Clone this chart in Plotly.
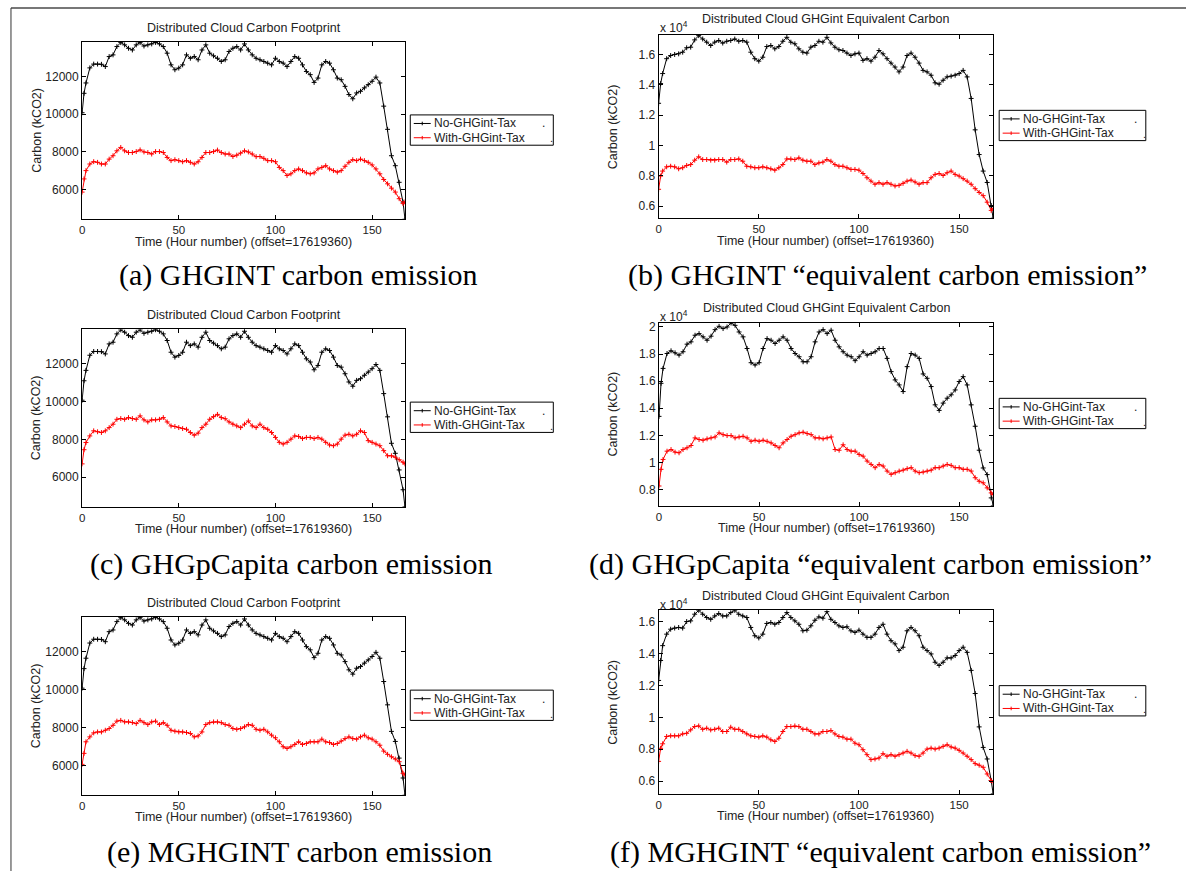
import plotly.graph_objects as go

W, H = 1186, 871

# ---------------- data (hour offsets from 17619360) ----------------
HOURS = [0, 1, 2, 4, 6, 8, 10, 12, 14, 16, 18, 20, 22, 24, 26, 28, 30, 32, 34, 36,
         38, 40, 42, 44, 46, 48, 50, 52, 54, 56, 58, 60, 62, 64, 66, 68, 70, 72, 74, 76,
         78, 80, 82, 84, 86, 88, 90, 92, 94, 96, 98, 100, 102, 104, 106, 108, 110, 112, 114, 116,
         118, 120, 122, 124, 126, 128, 130, 132, 134, 136, 138, 140, 142, 144, 146, 148, 150, 152, 154, 156,
         158, 160, 162, 164, 166, 167]

# carbon footprint without tax (same baseline in a, c, e)
NO_TAX_FOOTPRINT = [10070, 11100, 11650, 12450, 12650, 12650, 12640, 12520, 13050, 13140,
                    13580, 13790, 13670, 13490, 13400, 13670, 13790, 13610, 13670, 13720,
                    13800, 13720, 13580, 13230, 12610, 12350, 12440, 12610, 13140, 12960,
                    13050, 12880, 13400, 13670, 13230, 13090, 12960, 12790, 12880, 13320,
                    13490, 13580, 13400, 13720, 13400, 13140, 12960, 12880, 12790, 12700,
                    12610, 12960, 12790, 12700, 12520, 12790, 13050, 12960, 12610, 12260,
                    12090, 11680, 11910, 12610, 12790, 12700, 12350, 11910, 11820, 11470,
                    11035, 10810, 11120, 11210, 11390, 11560, 11740, 11960, 11650, 10420,
                    9190, 7790, 7260, 6380, 5330, 4420]
# (a) GHGINT with tax
WITH_TAX_FOOTPRINT_GHGINT = [5860, 6560, 7000, 7350, 7475, 7440, 7350, 7350, 7610, 7790,
                             8050, 8230, 8050, 7960, 7960, 8010, 8100, 7990, 7960, 7880,
                             8010, 8010, 7960, 7700, 7530, 7580, 7530, 7470, 7530, 7440,
                             7350, 7470, 7700, 7960, 7960, 8010, 8090, 7960, 7880, 7880,
                             7750, 7820, 7930, 8050, 7990, 7880, 7740, 7750, 7650, 7530,
                             7530, 7470, 7170, 7000, 6740, 6830, 7000, 7090, 7000, 6880,
                             6830, 6880, 7090, 7170, 7260, 7090, 7000, 6920, 7000, 7230,
                             7440, 7580, 7530, 7610, 7530, 7440, 7300, 7090, 6830, 6530,
                             6300, 6070, 5860, 5510, 5250, 5340]
# (c) GHGpCapita with tax
WITH_TAX_FOOTPRINT_PCAP = [6700, 7450, 7830, 8180, 8450, 8400, 8360, 8450, 8620, 8800,
                           9060, 9100, 9060, 9150, 9100, 9060, 9240, 9030, 8920, 9030,
                           9030, 9060, 9150, 8920, 8710, 8680, 8620, 8570, 8530, 8360,
                           8220, 8330, 8620, 8800, 9060, 9200, 9320, 9150, 9090, 8920,
                           8800, 8710, 8620, 8800, 8970, 8710, 8620, 8800, 8620, 8530,
                           8360, 8100, 7840, 7750, 7840, 8010, 8180, 8150, 8040, 8100,
                           8100, 8040, 8100, 8010, 7840, 7700, 7660, 7750, 8010, 8220,
                           8270, 8180, 8270, 8450, 8360, 7930, 7840, 7750, 7660, 7400,
                           7130, 7130, 7050, 6920, 6790, 6700]
# (e) MGHGINT with tax
WITH_TAX_FOOTPRINT_MGHG = [6050, 6630, 7240, 7500, 7710, 7760, 7760, 7850, 7940, 8110,
                           8330, 8370, 8290, 8290, 8260, 8200, 8370, 8250, 8150, 8290,
                           8330, 8150, 8250, 8110, 7850, 7800, 7760, 7760, 7730, 7680,
                           7500, 7550, 7760, 8150, 8250, 8290, 8290, 8250, 8150, 8110,
                           7940, 7900, 7940, 8030, 8150, 8110, 7900, 7850, 7900, 7760,
                           7590, 7450, 7240, 6980, 6890, 6980, 7100, 7240, 7100, 7150,
                           7240, 7240, 7240, 7380, 7240, 7200, 7100, 7150, 7280, 7410,
                           7500, 7410, 7380, 7500, 7590, 7450, 7380, 7240, 7060, 6750,
                           6580, 6450, 6330, 6190, 5580, 5490]
# (b) GHGINT equivalent carbon
NO_TAX_EQUIV_GHGINT = [12780, 14080, 14740, 15720, 15930, 16000, 16040, 16150, 16440, 16480,
                       16960, 17240, 17020, 16810, 16590, 16810, 16920, 16750, 16870, 16920,
                       17020, 16870, 16920, 16810, 16150, 15720, 15560, 15820, 16520, 16590,
                       16370, 16520, 16870, 17130, 16810, 16700, 16370, 16150, 16090, 16480,
                       16590, 16870, 16810, 17130, 16760, 16480, 16310, 16260, 16090, 15930,
                       16040, 16090, 15610, 15720, 15560, 15820, 16260, 16040, 15720, 15430,
                       15170, 14850, 15170, 15930, 16090, 15820, 15430, 14950, 14850, 14630,
                       14130, 14040, 14300, 14520, 14570, 14630, 14740, 14950, 14520, 13100,
                       11030, 9400, 8310, 7560, 6040, 5200]
WITH_TAX_EQUIV_GHGINT = [7110, 7980, 8310, 8590, 8630, 8590, 8460, 8530, 8680, 8740,
                         9030, 9250, 9070, 9070, 9030, 9030, 9070, 9070, 8900, 9070,
                         9070, 9110, 8960, 8630, 8590, 8530, 8530, 8590, 8530, 8460,
                         8370, 8530, 8740, 9110, 9110, 9070, 9180, 9030, 8960, 8960,
                         8740, 8850, 8900, 9070, 8960, 8740, 8630, 8630, 8530, 8420,
                         8420, 8370, 8150, 7870, 7650, 7440, 7550, 7440, 7550, 7440,
                         7330, 7370, 7500, 7650, 7720, 7590, 7440, 7550, 7550, 7870,
                         8090, 8150, 8020, 8200, 8310, 8090, 7980, 7810, 7650, 7440,
                         7150, 6900, 6690, 6260, 5720, 5830]
# (d) GHGpCapita equivalent carbon
NO_TAX_EQUIV_PCAP = [13400, 15840, 16940, 18040, 18240, 18090, 17920, 18170, 18730, 18900,
                     19390, 19510, 19270, 19020, 19320, 19800, 20050, 19880, 20000, 20290,
                     20120, 19630, 19270, 18410, 17360, 17190, 17360, 18410, 19140, 19020,
                     18780, 19020, 19270, 19020, 18410, 18040, 17800, 17430, 17430, 17800,
                     18900, 19630, 19800, 19510, 19760, 19020, 18530, 18170, 17920, 17800,
                     17510, 17800, 18170, 17920, 18040, 18170, 18410, 18410, 17680, 16700,
                     16090, 15720, 15230, 17070, 18040, 17920, 17680, 16530, 16210, 15600,
                     14250, 13840, 14380, 14740, 14990, 15350, 15970, 16330, 15720, 14250,
                     12670, 10900, 9590, 9100, 7380, 6800]
WITH_TAX_EQUIV_PCAP = [8260, 9490, 10220, 10830, 10950, 10760, 10710, 10950, 11080, 11250,
                       11810, 11690, 11640, 11740, 11810, 11880, 12180, 12050, 11980, 11980,
                       11810, 11880, 11930, 11810, 11560, 11640, 11560, 11640, 11560, 11440,
                       11250, 11080, 11440, 11690, 11930, 12050, 12180, 12230, 12130, 12050,
                       11810, 11810, 11740, 11810, 11880, 10950, 10900, 11300, 10950, 10830,
                       10830, 10590, 10460, 10100, 9850, 9610, 9850, 9730, 9360, 9120,
                       9240, 9360, 9430, 9540, 9610, 9360, 9240, 9290, 9360, 9430,
                       9610, 9610, 9730, 9850, 9780, 9610, 9610, 9490, 9490, 9360,
                       8870, 8610, 8490, 8120, 7750, 7630]
# (f) MGHGINT equivalent carbon
NO_TAX_EQUIV_MGHG = [12310, 13560, 14490, 15210, 15520, 15590, 15630, 15590, 16000, 16040,
                     16460, 16700, 16460, 16250, 16140, 16350, 16500, 16350, 16350, 16560,
                     16700, 16460, 16350, 16250, 15630, 15110, 14970, 15210, 15880, 15940,
                     15830, 15940, 16250, 16560, 16250, 16040, 15830, 15420, 15460, 15730,
                     16080, 16290, 16210, 16620, 16140, 15940, 15730, 15630, 15670, 15420,
                     15320, 15460, 15210, 15010, 15010, 15210, 15630, 15830, 15210, 14800,
                     14600, 14180, 14390, 15420, 15630, 15420, 15110, 14390, 14180, 13970,
                     13450, 13250, 13450, 13720, 13720, 13870, 14180, 14390, 14070, 12940,
                     11490, 9400, 8115, 7390, 6040, 5210]
WITH_TAX_EQUIV_MGHG = [7240, 8060, 8340, 8800, 8840, 8840, 8840, 8960, 9000, 9210,
                       9420, 9460, 9250, 9320, 9210, 9250, 9320, 9110, 9110, 9380,
                       9250, 9250, 9110, 8960, 8840, 8800, 8760, 8840, 8760, 8590,
                       8490, 8690, 9110, 9420, 9420, 9460, 9420, 9250, 9250, 9110,
                       8960, 8960, 9110, 9110, 9170, 8960, 8800, 8760, 8630, 8630,
                       8380, 8280, 7970, 7660, 7350, 7390, 7450, 7720, 7560, 7660,
                       7560, 7660, 7760, 7870, 7760, 7600, 7560, 7760, 8010, 8070,
                       8010, 8070, 8180, 8280, 8140, 8070, 7930, 7760, 7560, 7350,
                       7100, 7000, 6870, 6450, 6040, 5940]

SERIES_NAMES = ["No-GHGint-Tax", "With-GHGint-Tax"]
TITLES = ["Distributed Cloud Carbon Footprint", "Distributed Cloud GHGint Equivalent Carbon"]
CAPTIONS = ["(a) GHGINT carbon emission", "(b) GHGINT \u201cequivalent carbon emission\u201d",
            "(c) GHGpCapita carbon emission", "(d) GHGpCapita \u201cequivalent carbon emission\u201d",
            "(e) MGHGINT carbon emission", "(f) MGHGINT \u201cequivalent carbon emission\u201d"]
X_TICKS = [0, 50, 100, 150]
Y_TICKS_FOOT = [6000, 8000, 10000, 12000]
Y_TICKTEXT_FOOT = ["6000", "8000", "10000", "12000"]
Y_TICKS_EQ = [6000, 8000, 10000, 12000, 14000, 16000]
Y_TICKTEXT_EQ = ["0.6", "0.8", "1", "1.2", "1.4", "1.6"]
Y_TICKS_EQ_D = [8000, 10000, 12000, 14000, 16000, 18000, 20000]
Y_TICKTEXT_EQ_D = ["0.8", "1", "1.2", "1.4", "1.6", "1.8", "2"]

# ---------------- layout geometry (pixels) ----------------
panels = [
    dict(box=(79.3, 403, 39, 217), yr=(4420, 13830), data=(NO_TAX_FOOTPRINT, WITH_TAX_FOOTPRINT_GHGINT),
         title=TITLES[0], yt=Y_TICKS_FOOT, ytt=Y_TICKTEXT_FOOT, title_y=25, leg=(408.3, 112.3, 143.4),
         cap=(296, 273), cap_text=CAPTIONS[0], xt_y=240, mult_y=None),
    dict(box=(657.3, 992.7, 32, 216), yr=(5200, 17290), data=(NO_TAX_EQUIV_GHGINT, WITH_TAX_EQUIV_GHGINT),
         title=TITLES[1], yt=Y_TICKS_EQ, ytt=Y_TICKTEXT_EQ, title_y=16, leg=(998.7, 107.7, 147),
         cap=(887, 273), cap_text=CAPTIONS[1], xt_y=239, mult_y=24),
    dict(box=(79.3, 403, 327.3, 505.7), yr=(4420, 13830), data=(NO_TAX_FOOTPRINT, WITH_TAX_FOOTPRINT_PCAP),
         title=TITLES[0], yt=Y_TICKS_FOOT, ytt=Y_TICKTEXT_FOOT, title_y=313, leg=(408.3, 400.5, 143.4),
         cap=(289, 563), cap_text=CAPTIONS[2], xt_y=528, mult_y=None),
    dict(box=(657.7, 992.7, 321, 504.5), yr=(6800, 20300), data=(NO_TAX_EQUIV_PCAP, WITH_TAX_EQUIV_PCAP),
         title=TITLES[1], yt=Y_TICKS_EQ_D, ytt=Y_TICKTEXT_EQ_D, title_y=306, leg=(998.7, 396.7, 147),
         cap=(870, 563), cap_text=CAPTIONS[3], xt_y=527, mult_y=314),
    dict(box=(79.3, 403, 616, 795), yr=(4420, 13830), data=(NO_TAX_FOOTPRINT, WITH_TAX_FOOTPRINT_MGHG),
         title=TITLES[0], yt=Y_TICKS_FOOT, ytt=Y_TICKTEXT_FOOT, title_y=602, leg=(408.3, 689.5, 143.4),
         cap=(297, 852), cap_text=CAPTIONS[4], xt_y=817, mult_y=None),
    dict(box=(657.3, 992.7, 609.3, 793.5), yr=(5210, 16710), data=(NO_TAX_EQUIV_MGHG, WITH_TAX_EQUIV_MGHG),
         title=TITLES[1], yt=Y_TICKS_EQ, ytt=Y_TICKTEXT_EQ, title_y=595, leg=(998.7, 685, 147),
         cap=(880, 852), cap_text=CAPTIONS[5], xt_y=816, mult_y=603),
]

COLORS = ["#000000", "#ff0000"]
SANS = "Liberation Sans, Arial, Helvetica, sans-serif"
SERIF = "Liberation Serif, Times New Roman, serif"
TXT = "#222222"


def fx(x):
    return x / W


def fy(y):
    return 1 - y / H


fig = go.Figure()
layout = dict(width=W, height=H, autosize=False, margin=dict(l=0, r=0, t=0, b=0),
              paper_bgcolor="white", plot_bgcolor="white", showlegend=False)
annotations = []
shapes = []


def pline(x0, y0, x1, y1, color, width=1):
    shapes.append(dict(type="line", xref="paper", yref="paper", x0=fx(x0), y0=fy(y0),
                       x1=fx(x1), y1=fy(y1), line=dict(color=color, width=width)))


def ptext(text, x, y, size, family=SANS, color=TXT, xanchor="center", angle=0):
    annotations.append(dict(text=text, x=fx(x), y=fy(y), xref="paper", yref="paper",
                            showarrow=False, xanchor=xanchor, yanchor="middle", textangle=angle,
                            font=dict(family=family, size=size, color=color)))


for i, p in enumerate(panels, start=1):
    sfx = "" if i == 1 else str(i)
    x0, x1, y0, y1 = p["box"]
    for k in range(2):
        fig.add_trace(go.Scatter(
            x=HOURS, y=p["data"][k], mode="lines+markers", name=SERIES_NAMES[k],
            xaxis="x" + sfx, yaxis="y" + sfx,
            line=dict(color=COLORS[k], width=1),
            marker=dict(symbol="cross-thin", size=3.5, color=COLORS[k],
                        line=dict(color=COLORS[k], width=1)),
            hoverinfo="x+y"))
    axis_common = dict(showline=True, linecolor="black", linewidth=1, mirror="allticks",
                       ticks="inside", ticklen=4, tickcolor="black", showgrid=False,
                       zeroline=False, tickfont=dict(family=SANS, size=12, color=TXT))
    layout["xaxis" + sfx] = dict(axis_common, domain=[fx(x0), fx(x1)], range=[0, 167],
                                 tickvals=X_TICKS, anchor="y" + sfx,
                                 tickfont=dict(family=SANS, size=11.5, color=TXT))
    layout["yaxis" + sfx] = dict(axis_common, domain=[fy(y1), fy(y0)], range=list(p["yr"]),
                                 tickvals=p["yt"], ticktext=p["ytt"], anchor="x" + sfx)
    cx = (x0 + x1) / 2
    ptext(p["title"], cx, p["title_y"], 12.5)
    ptext("Time (Hour number) (offset=17619360)", cx, p["xt_y"], 12.5)
    ptext("Carbon (kCO2)", x0 - 46, (y0 + y1) / 2, 12.5, angle=-90)
    if p["mult_y"] is not None:
        ptext("x 10<sup>4</sup>", x0 - 1, p["mult_y"], 12, xanchor="left")
    # legend box drawn by hand (matches the compact MATLAB legend)
    lx, ly, lw = p["leg"]
    shapes.append(dict(type="rect", xref="paper", yref="paper", x0=fx(lx), x1=fx(lx + lw),
                       y0=fy(ly + 30.4), y1=fy(ly), line=dict(color="black", width=1),
                       fillcolor="white", layer="above"))
    for k in range(2):
        ry = ly + 8.6 + 14.3 * k
        pline(lx + 3.5, ry, lx + 20.5, ry, COLORS[k])
        pline(lx + 12, ry - 1.8, lx + 12, ry + 1.8, COLORS[k])
        ptext(SERIES_NAMES[k], lx + 21.5, ry, 12, xanchor="left")
    # stray dots at the legend's right edge (as in the source figure)
    ptext(".", lx + lw - 10, ly + 8.5, 12)
    ptext(".", lx + lw - 1.5, ly + 23.5, 11)
    capx, capy = p["cap"]
    ptext(p["cap_text"], capx, capy, 30, family=SERIF, color="black")

# outer frame of the source figure
pline(8, 5, W, 5, "#777777", 2)
pline(8, 5, 8, H, "#333333", 1)

layout["annotations"] = annotations
layout["shapes"] = shapes
fig.update_layout(**layout)
fig.write_html("out.html", config={"displayModeBar": False},
               post_script="document.body.style.margin='0';document.body.style.padding='0';")
